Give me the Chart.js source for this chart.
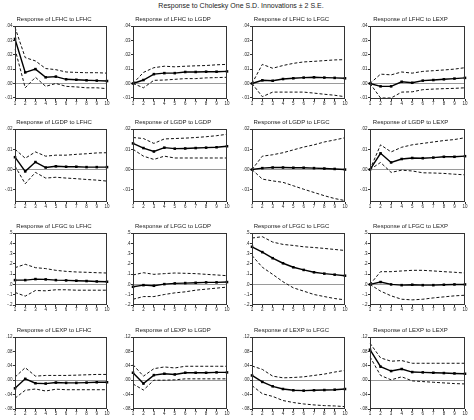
<!DOCTYPE html>
<html><head><meta charset="utf-8">
<script src="https://cdn.jsdelivr.net/npm/chart.js@4.4.1/dist/chart.umd.min.js"></script>
<style>
html,body{margin:0;padding:0;background:#fff;width:474px;height:420px;overflow:hidden;position:relative;font-family:"Liberation Sans",Arial,sans-serif}
#main{position:absolute;left:0;width:482px;top:1px;text-align:center;font-size:7px;color:#222;line-height:10px}
canvas{position:absolute}
</style></head><body>
<div id="main">Response to Cholesky One S.D. Innovations ± 2 S.E.</div>
<script>
// ---------- data ----------
const periods = ['1','2','3','4','5','6','7','8','9','10'];
const variables = ['LFHC','LGDP','LFGC','LEXP'];

// y-axis ticks per row (responding variable)
const tickValsLFHC = [-0.01, 0, 0.01, 0.02, 0.03, 0.04];
const tickLabsLFHC = ['-.01', '.00', '.01', '.02', '.03', '.04'];
const tickValsLGDP = [-0.01, 0, 0.01, 0.02];
const tickLabsLGDP = ['-.01', '.00', '.01', '.02'];
const tickValsLFGC = [-0.2, -0.1, 0, 0.1, 0.2, 0.3, 0.4, 0.5];
const tickLabsLFGC = ['-.2', '-.1', '.0', '.1', '.2', '.3', '.4', '.5'];
const tickValsLEXP = [-0.08, -0.04, 0, 0.04, 0.08, 0.12];
const tickLabsLEXP = ['-.08', '-.04', '.00', '.04', '.08', '.12'];
const rangeLFHC = [-0.0108, 0.04];
const rangeLGDP = [-0.016, 0.02];
const rangeLFGC = [-0.2, 0.5];
const rangeLEXP = [-0.08, 0.12];

// Response of LFHC
const LFHC_LFHC_resp = [.031,.0077,.010,.0043,.0048,.0029,.0026,.0022,.0020,.0017];
const LFHC_LFHC_up   = [.039,.018,.0157,.0104,.0096,.008,.0077,.0075,.0075,.0072];
const LFHC_LFHC_lo   = [.024,-.003,.0043,-.002,0,-.002,-.0024,-.003,-.003,-.0036];
const LFHC_LGDP_resp = [0,.0024,.0065,.0072,.0072,.008,.008,.0082,.0082,.0084];
const LFHC_LGDP_up   = [0,.0077,.011,.012,.0116,.012,.0123,.0125,.013,.0133];
const LFHC_LGDP_lo   = [0,-.003,.0022,.0024,.0029,.0034,.0034,.0039,.0041,.0043];
const LFHC_LFGC_resp = [0,.0022,.0019,.0031,.0036,.0041,.0043,.0041,.0039,.0036];
const LFHC_LFGC_up   = [0,.0133,.0106,.0125,.014,.015,.0154,.0159,.0164,.0166];
const LFHC_LFGC_lo   = [0,-.0092,-.006,-.006,-.006,-.006,-.0067,-.0075,-.0082,-.0092];
const LFHC_LEXP_resp = [0,-.002,-.002,.0012,.0005,.002,.0024,.0029,.0034,.0039];
const LFHC_LEXP_up   = [0,.0065,.006,.008,.0072,.0084,.0089,.0094,.010,.011];
const LFHC_LEXP_lo   = [0,-.0101,-.0101,-.006,-.0058,-.0043,-.0039,-.0036,-.0034,-.003];

// Response of LGDP
const LGDP_LFHC_resp = [.0061,-.0009,.0037,.001,.0016,.0014,.0014,.0012,.0012,.0012];
const LGDP_LFHC_up   = [.010,.0056,.0087,.0066,.0071,.0071,.0075,.0078,.0082,.0083];
const LGDP_LFHC_lo   = [.0017,-.007,-.0014,-.0042,-.0038,-.0042,-.0045,-.0049,-.0052,-.0057];
const LGDP_LGDP_resp = [.0129,.0106,.0089,.0108,.0103,.0104,.0106,.0108,.011,.0115];
const LGDP_LGDP_up   = [.0158,.0153,.0129,.0151,.0153,.0155,.0158,.0162,.0167,.0174];
const LGDP_LGDP_lo   = [.010,.0066,.005,.0066,.0057,.0057,.0057,.0057,.0057,.0057];
const LGDP_LFGC_resp = [0,.0007,.001,.001,.0009,.0009,.0007,.0005,.0003,0];
const LGDP_LFGC_up   = [0,.0066,.0073,.0083,.0097,.0111,.0122,.0136,.0146,.0157];
const LGDP_LFGC_lo   = [0,-.0047,-.0056,-.0063,-.008,-.0097,-.0113,-.0129,-.0143,-.0153];
const LGDP_LEXP_resp = [0,.008,.0035,.0052,.0057,.0056,.0059,.0063,.0063,.0066];
const LGDP_LEXP_up   = [0,.0122,.0087,.011,.0122,.0129,.0136,.0143,.0148,.0157];
const LGDP_LEXP_lo   = [0,.0035,-.0014,-.0003,-.0007,-.0016,-.0017,-.0019,-.0023,-.0026];

// Response of LFGC
const LFGC_LFHC_resp = [.042,.042,.052,.049,.042,.039,.036,.033,.029,.026];
const LFGC_LFHC_up   = [.163,.196,.163,.154,.137,.127,.121,.118,.114,.111];
const LFGC_LFHC_lo   = [-.078,-.114,-.059,-.062,-.052,-.052,-.056,-.056,-.056,-.056];
const LFGC_LGDP_resp = [-.023,-.007,-.013,.003,.01,.013,.016,.02,.02,.023];
const LFGC_LGDP_up   = [.092,.114,.098,.105,.111,.108,.105,.098,.092,.085];
const LFGC_LGDP_lo   = [-.144,-.118,-.118,-.098,-.082,-.072,-.056,-.046,-.036,-.026];
const LFGC_LFGC_resp = [.366,.314,.255,.206,.167,.141,.118,.105,.095,.085];
const LFGC_LFGC_up   = [.451,.464,.412,.389,.379,.366,.359,.35,.34,.33];
const LFGC_LFGC_lo   = [.281,.167,.098,.026,-.033,-.065,-.098,-.118,-.137,-.15];
const LFGC_LEXP_resp = [0,.023,0,-.007,-.003,-.007,-.007,-.003,0,0];
const LFGC_LEXP_up   = [0,.124,.124,.131,.137,.137,.131,.124,.118,.111];
const LFGC_LEXP_lo   = [0,-.065,-.111,-.144,-.15,-.144,-.131,-.121,-.111,-.105];

// Response of LEXP
const LEXP_LFHC_resp = [-.0226,.0038,-.0085,-.0094,-.0066,-.0075,-.0075,-.0066,-.0057,-.0057];
const LEXP_LFHC_up   = [.0085,.0348,.0113,.0132,.0132,.0132,.014,.015,.016,.016];
const LEXP_LFHC_lo   = [-.05,-.028,-.0245,-.030,-.025,-.0264,-.0264,-.0264,-.0264,-.0264];
const LEXP_LGDP_resp = [.0207,-.0094,.0141,.0179,.016,.0207,.0207,.0207,.0217,.0217];
const LEXP_LGDP_up   = [.043,.0113,.032,.0368,.034,.0387,.0387,.0387,.0387,.0387];
const LEXP_LGDP_lo   = [-.0104,-.0273,0,0,.001,.0038,.0038,.0038,.0038,.0038];
const LEXP_LFGC_resp = [.0132,-.0047,-.017,-.0245,-.028,-.029,-.028,-.0273,-.0264,-.0245];
const LEXP_LFGC_up   = [.0395,.030,.0113,.0066,.0075,.0094,.0132,.017,.0226,.0273];
const LEXP_LFGC_lo   = [-.015,-.0376,-.045,-.0565,-.062,-.066,-.0687,-.0706,-.0715,-.0734];
const LEXP_LEXP_resp = [.0847,.0376,.0254,.031,.0226,.0217,.0207,.0198,.0188,.0179];
const LEXP_LEXP_up   = [.1026,.062,.0527,.0546,.047,.047,.047,.047,.047,.047];
const LEXP_LEXP_lo   = [.065,.0132,.001,.0094,-.0019,-.0038,-.0057,-.0075,-.0094,-.0104];

// ---------- layout ----------
const colLeft = [15, 133, 252, 370];
const colWidth = [92, 94, 93, 95];
const rowTop = [26, 129, 233, 337];
const rowHeight = [73, 73, 72, 72];
const Y_AXIS_W = 14, TITLE_H = 12, X_AXIS_H = 10, RIGHT_PAD = 4;
const FONT = '"Liberation Sans", Arial, sans-serif';

const series = {
  LFHC_LFHC:[LFHC_LFHC_resp,LFHC_LFHC_up,LFHC_LFHC_lo], LFHC_LGDP:[LFHC_LGDP_resp,LFHC_LGDP_up,LFHC_LGDP_lo],
  LFHC_LFGC:[LFHC_LFGC_resp,LFHC_LFGC_up,LFHC_LFGC_lo], LFHC_LEXP:[LFHC_LEXP_resp,LFHC_LEXP_up,LFHC_LEXP_lo],
  LGDP_LFHC:[LGDP_LFHC_resp,LGDP_LFHC_up,LGDP_LFHC_lo], LGDP_LGDP:[LGDP_LGDP_resp,LGDP_LGDP_up,LGDP_LGDP_lo],
  LGDP_LFGC:[LGDP_LFGC_resp,LGDP_LFGC_up,LGDP_LFGC_lo], LGDP_LEXP:[LGDP_LEXP_resp,LGDP_LEXP_up,LGDP_LEXP_lo],
  LFGC_LFHC:[LFGC_LFHC_resp,LFGC_LFHC_up,LFGC_LFHC_lo], LFGC_LGDP:[LFGC_LGDP_resp,LFGC_LGDP_up,LFGC_LGDP_lo],
  LFGC_LFGC:[LFGC_LFGC_resp,LFGC_LFGC_up,LFGC_LFGC_lo], LFGC_LEXP:[LFGC_LEXP_resp,LFGC_LEXP_up,LFGC_LEXP_lo],
  LEXP_LFHC:[LEXP_LFHC_resp,LEXP_LFHC_up,LEXP_LFHC_lo], LEXP_LGDP:[LEXP_LGDP_resp,LEXP_LGDP_up,LEXP_LGDP_lo],
  LEXP_LFGC:[LEXP_LFGC_resp,LEXP_LFGC_up,LEXP_LFGC_lo], LEXP_LEXP:[LEXP_LEXP_resp,LEXP_LEXP_up,LEXP_LEXP_lo]
};
const rowAxis = {
  LFHC:{vals:tickValsLFHC, labs:tickLabsLFHC, range:rangeLFHC},
  LGDP:{vals:tickValsLGDP, labs:tickLabsLGDP, range:rangeLGDP},
  LFGC:{vals:tickValsLFGC, labs:tickLabsLFGC, range:rangeLFGC},
  LEXP:{vals:tickValsLEXP, labs:tickLabsLEXP, range:rangeLEXP}
};

const boxPlugin = {
  id:'box',
  afterDatasetsDraw(chart){
    const a = chart.chartArea, ctx = chart.ctx;
    ctx.save();
    ctx.strokeStyle = '#333'; ctx.lineWidth = 1;
    ctx.strokeRect(Math.round(a.left)+0.5, Math.round(a.top)+0.5,
                   Math.round(a.right)-Math.round(a.left)-1, Math.round(a.bottom)-Math.round(a.top)-1);
    ctx.restore();
  }
};

variables.forEach((rv, r) => {
  variables.forEach((iv, c) => {
    const [resp, up, lo] = series[rv + '_' + iv];
    const ax = rowAxis[rv];
    const cv = document.createElement('canvas');
    const w = Y_AXIS_W + colWidth[c] + RIGHT_PAD;
    const h = TITLE_H + rowHeight[r] + X_AXIS_H;
    cv.width = w; cv.height = h;
    cv.style.left = (colLeft[c] - Y_AXIS_W) + 'px';
    cv.style.top = (rowTop[r] - TITLE_H) + 'px';
    cv.style.width = w + 'px'; cv.style.height = h + 'px';
    document.body.appendChild(cv);
    const dashed = {borderColor:'#111', borderWidth:1, borderDash:[3,2], pointRadius:0, fill:false, tension:0};
    new Chart(cv, {
      type:'line',
      data:{
        labels: periods,
        datasets:[
          Object.assign({label:'+2 S.E.', data:up}, dashed),
          Object.assign({label:'-2 S.E.', data:lo}, dashed),
          {label:'Response', data:resp, borderColor:'#000', borderWidth:1.4, pointStyle:'rect',
           pointRadius:1.8, pointBackgroundColor:'#000', pointBorderColor:'#000', pointBorderWidth:0, tension:0, fill:false}
        ]
      },
      options:{
        responsive:false, animation:false, devicePixelRatio:1,
        layout:{padding:{left:0, right:RIGHT_PAD, top:0, bottom:0}},
        plugins:{
          legend:{display:false}, tooltip:{enabled:false},
          title:{display:true, text:'Response of ' + rv + ' to ' + iv, color:'#222',
                 font:{family:FONT, size:6, weight:'normal', lineHeight:1}, padding:{top:2, bottom:4}}
        },
        scales:{
          x:{type:'category', offset:false,
             grid:{drawOnChartArea:false, tickLength:2, color:'#333', tickColor:'#333'},
             border:{display:false},
             ticks:{font:{family:FONT, size:4.5}, color:'#222', padding:0, maxRotation:0, autoSkip:false},
             afterFit(s){ s.height = X_AXIS_H; }},
          y:{min:ax.range[0], max:ax.range[1],
             afterBuildTicks(s){ s.ticks = ax.vals.map(v => ({value:v})); },
             grid:{color:(ctx) => (ctx.tick && ctx.tick.value === 0) ? '#9a9a9a' : 'rgba(0,0,0,0)',
                   lineWidth:1, tickLength:2, tickColor:'#333', drawTicks:true},
             border:{display:false},
             ticks:{font:{family:FONT, size:4.5}, color:'#222', padding:0.5,
                    callback:(v, i) => ax.labs[ax.vals.indexOf(v)] !== undefined ? ax.labs[ax.vals.indexOf(v)] : ax.labs[i]},
             afterFit(s){ s.width = Y_AXIS_W; }}
        }
      },
      plugins:[boxPlugin]
    });
  });
});
</script>
</body></html>
